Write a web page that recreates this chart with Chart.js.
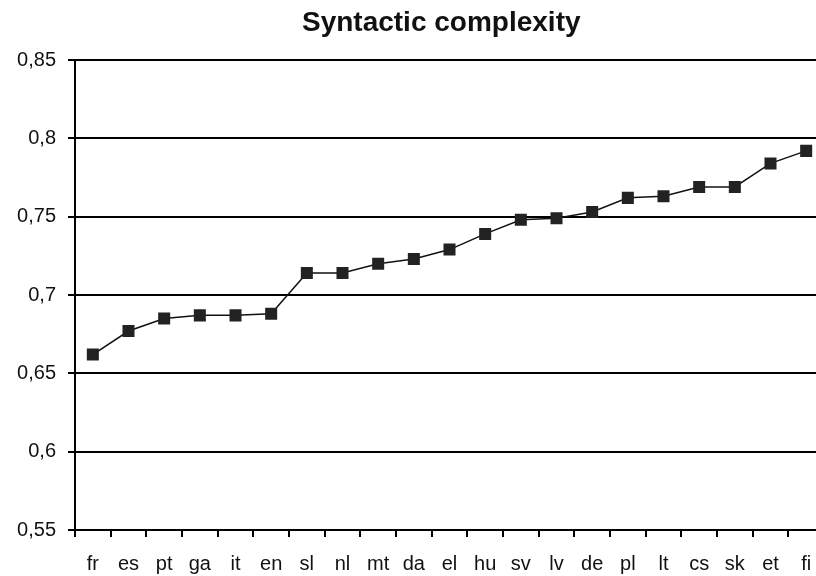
<!DOCTYPE html>
<html>
<head>
<meta charset="utf-8">
<title>Syntactic complexity</title>
<script src="https://cdn.jsdelivr.net/npm/chart.js@4/dist/chart.umd.min.js"></script>
<style>
    html, body { margin: 0; padding: 0; background: #fff; overflow: hidden; }
    #wrap { width: 816px; height: 576px; }
</style>
</head>
<body>
<div id="wrap"><canvas id="chart" width="816" height="576"></canvas></div>
<script>
// Data
const languages = ['fr', 'es', 'pt', 'ga', 'it', 'en', 'sl', 'nl', 'mt', 'da', 'el',
    'hu', 'sv', 'lv', 'de', 'pl', 'lt', 'cs', 'sk', 'et', 'fi'];
const complexity = [0.662, 0.677, 0.685, 0.687, 0.687, 0.688, 0.714, 0.714, 0.720, 0.723, 0.729,
    0.739, 0.748, 0.749, 0.753, 0.762, 0.763, 0.769, 0.769, 0.784, 0.792];
const yMin = 0.55;
const yMax = 0.85;
const yStep = 0.05;

const font = 'Liberation Sans, Arial, sans-serif';

// The original plot is cut off by the picture's right edge:
// let the plot area run a few pixels past the canvas.
const plotRight = 824;

const extendPlot = {
    id: 'extendPlot',
    afterLayout(chart) {
        const area = chart.chartArea;
        const x = chart.scales.x;
        area.right = plotRight;
        area.width = area.right - area.left;
        x.right = plotRight;
        x.width = x.right - x.left;
        x.configure();
    }
};

document.addEventListener('DOMContentLoaded', function() {
    const ctx = document.getElementById('chart');

    new Chart(ctx, {
        type: 'line',
        data: {
            labels: languages,
            datasets: [{
                label: 'Syntactic complexity',
                data: complexity,
                borderColor: '#111',
                borderWidth: 1.5,
                tension: 0,
                pointStyle: 'rect',
                pointRadius: 8.5,
                pointBackgroundColor: '#222',
                pointBorderWidth: 0
            }]
        },
        options: {
            responsive: false,
            animation: false,
            layout: { padding: 0 },
            plugins: {
                legend: { display: false },
                tooltip: { enabled: false },
                title: {
                    display: true,
                    text: 'Syntactic complexity',
                    color: '#111',
                    fullSize: false,
                    font: { family: font, size: 28, weight: 'bold' },
                    padding: { top: 6, bottom: 20.4 }
                }
            },
            scales: {
                x: {
                    offset: true,
                    grid: {
                        offset: true,
                        drawOnChartArea: false,
                        drawTicks: true,
                        tickLength: 7,
                        color: '#000',
                        lineWidth: 2
                    },
                    border: { display: true, color: '#000', width: 2 },
                    ticks: {
                        color: '#111',
                        padding: 15,
                        maxRotation: 0,
                        autoSkip: false,
                        font: { family: font, size: 20 }
                    },
                    afterFit: function(scale) {
                        scale.height = 46;
                        scale.paddingLeft = 0;
                        scale.paddingRight = 0;
                    }
                },
                y: {
                    min: yMin,
                    max: yMax,
                    grid: {
                        color: '#000',
                        lineWidth: 2,
                        tickLength: 7,
                        tickColor: '#000'
                    },
                    border: { display: true, color: '#000', width: 2 },
                    ticks: {
                        stepSize: yStep,
                        color: '#111',
                        padding: 12,
                        font: { family: font, size: 20 },
                        callback: function(value) {
                            return String(Math.round(value * 100) / 100).replace('.', ',');
                        }
                    },
                    afterFit: function(scale) { scale.width = 75; }
                }
            }
        },
        plugins: [extendPlot]
    });
});
</script>
</body>
</html>
